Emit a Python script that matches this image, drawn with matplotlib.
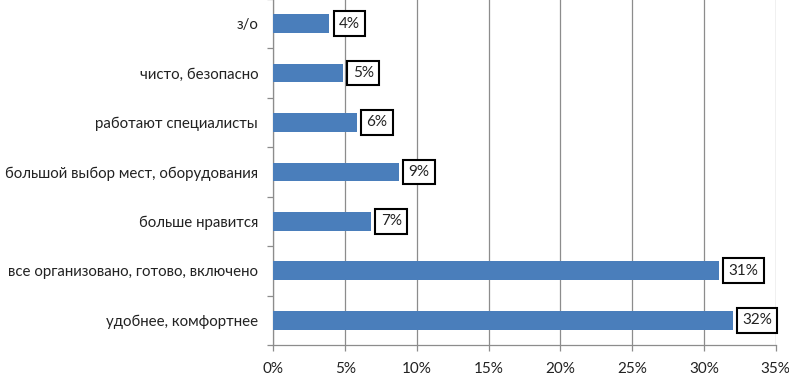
import matplotlib
matplotlib.use("Agg")
import matplotlib.pyplot as plt
import numpy as np
from matplotlib.ticker import FixedLocator, FuncFormatter

plt.rcParams['font.family'] = ['Lato', 'DejaVu Sans']

categories = ["удобнее, комфортнее",
              "все организовано, готово, включено",
              "больше нравится",
              "большой выбор мест, оборудования",
              "работают специалисты",
              "чисто, безопасно",
              "з/о"]
values = [32.0, 31.05, 6.8, 8.75, 5.8, 4.85, 3.9]
labels = ["32%", "31%", "7%", "9%", "6%", "5%", "4%"]
xticks = [0, 5, 10, 15, 20, 25, 30, 35]

fig = plt.figure(figsize=(7.89, 3.78), dpi=100)
ax = fig.add_axes([0.3466, 0.0873, 0.983 - 0.3466, 0.9127 + 0.003])

y = np.arange(len(categories))
ax.barh(y, values, height=0.38, color="#4a7ebb", zorder=3)

for yi, v, lab in zip(y, values, labels):
    ax.annotate(lab, xy=(v, yi), xytext=(7, 0), textcoords="offset points",
                ha="left", va="center", fontsize=11, color="#222222", zorder=5,
                bbox=dict(boxstyle="square,pad=0.35", fc="white", ec="black", lw=1.5))

ax.set_xlim(0, 35)
ax.set_ylim(-0.5, len(categories) - 0.5)
ax.xaxis.set_major_locator(FixedLocator(xticks))
ax.xaxis.set_major_formatter(FuncFormatter(lambda v, p: f"{int(v)}%"))
ax.grid(axis="x", color="#8c8c8c", lw=0.9, zorder=0)

ax.set_yticks(y)
ax.set_yticklabels(categories, fontsize=10.8, color="#222222")
ax.set_yticks(np.arange(-0.5, len(categories), 1.0), minor=True)
ax.tick_params(axis="y", which="major", length=0, pad=11)
ax.tick_params(axis="y", which="minor", length=4, color="#8c8c8c", width=0.9)
ax.tick_params(axis="x", which="major", length=4, color="#8c8c8c", width=0.9,
               labelsize=11, labelcolor="#222222", pad=8)

for s in ["top", "right"]:
    ax.spines[s].set_visible(False)
for s in ["left", "bottom"]:
    ax.spines[s].set_color("#8c8c8c")
    ax.spines[s].set_linewidth(0.9)

fig.savefig("out.png", dpi=100)
